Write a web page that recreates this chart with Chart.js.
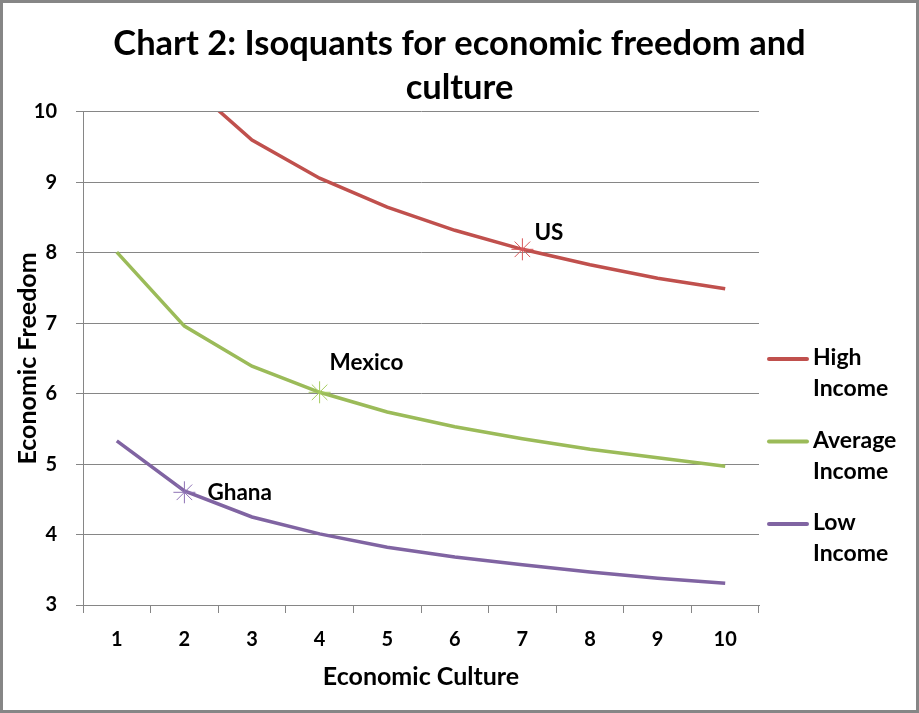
<!DOCTYPE html>
<html>
<head>
<meta charset="utf-8">
<script src="https://cdn.jsdelivr.net/npm/chart.js@4.4.1/dist/chart.umd.min.js"></script>
<style>
    body { margin: 0; background: #fff; }
    #wrap { position: relative; width: 913px; height: 707px; border: 3px solid #868686; }
</style>
</head>
<body>
<div id="wrap"><canvas id="myChart"></canvas></div>
<script>
// kategorije na x osi
const kultura = ['1', '2', '3', '4', '5', '6', '7', '8', '9', '10'];
// vrijednosti ocitane sa slike
const visokiPrihod = [12.05, 10.45, 9.60, 9.06, 8.65, 8.32, 8.05, 7.83, 7.64, 7.49];
const prosjecniPrihod = [8.01, 6.96, 6.39, 6.02, 5.74, 5.53, 5.36, 5.21, 5.09, 4.97];
const niskiPrihod = [5.33, 4.62, 4.25, 4.01, 3.82, 3.68, 3.57, 3.47, 3.38, 3.31];
const nazivi = ['High Income', 'Average Income', 'Low Income'];
// oznacene drzave
const drzave = ['US', 'Mexico', 'Ghana'];
const drzaveX = ['7', '4', '2'];
const drzaveY = [8.05, 6.02, 4.60];

const boje = ['#C0504D', '#9BBB59', '#8064A2'];
const bojeZvijezda = ['#D9585A', '#A6CC5E', '#8E72B5'];
// pomak natpisa od tacke (px)
const pomakNatpisa = [[12, -17], [10, -30], [23, 0]];
const FONT = 'Lato, "Open Sans", sans-serif';

const serije = [visokiPrihod, prosjecniPrihod, niskiPrihod];

const datasets = [];
drzave.forEach((d, i) => {
    datasets.push({
        label: d,
        data: [{ x: drzaveX[i], y: drzaveY[i] }],
        showLine: false,
        pointStyle: 'star',
        pointRadius: 11,
        pointBorderWidth: 1,
        pointBorderColor: bojeZvijezda[i],
        pointBackgroundColor: bojeZvijezda[i]
    });
});
serije.forEach((s, i) => {
    datasets.push({
        label: nazivi[i],
        data: s,
        borderColor: boje[i],
        backgroundColor: boje[i],
        borderWidth: 3.5,
        pointRadius: 0,
        tension: 0
    });
});

const legendaPlugin = {
    id: 'legenda',
    afterDraw(chart) {
        const ctx = chart.ctx;
        const a = chart.chartArea;
        ctx.save();
        ctx.font = 'bold 23px ' + FONT;
        ctx.fillStyle = '#000';
        ctx.textBaseline = 'middle';
        ctx.textAlign = 'left';
        nazivi.forEach((n, i) => {
            const y = a.top + 247 + i * 82.5;
            ctx.strokeStyle = boje[i];
            ctx.lineWidth = 4;
            ctx.lineCap = 'round';
            ctx.beginPath();
            ctx.moveTo(a.right + 10, y);
            ctx.lineTo(a.right + 48, y);
            ctx.stroke();
            const dijelovi = n.split(' ');
            ctx.fillText(dijelovi[0], a.right + 54, y - 1);
            ctx.fillText(dijelovi[1], a.right + 54, y + 30);
        });
        // natpisi drzava
        ctx.font = 'bold 22.5px ' + FONT;
        const meta = drzave.map((d, i) => chart.getDatasetMeta(i).data[0]);
        meta.forEach((p, i) => {
            ctx.fillText(drzave[i], p.x + pomakNatpisa[i][0], p.y + pomakNatpisa[i][1]);
        });
        ctx.restore();
    }
};

const ctx = document.getElementById('myChart');
const myChart = new Chart(ctx, {
    type: 'line',
    data: { labels: kultura, datasets: datasets },
    plugins: [legendaPlugin],
    options: {
        responsive: true,
        maintainAspectRatio: false,
        animation: false,
        layout: { padding: 0 },
        plugins: {
            legend: { display: false },
            tooltip: { enabled: false },
            title: {
                display: true,
                text: ['Chart 2: Isoquants for economic freedom and', 'culture'],
                color: '#000',
                font: { family: FONT, size: 34.5, weight: 'bold', lineHeight: 1.275 },
                padding: { top: 19, bottom: 2 }
            }
        },
        scales: {
            x: {
                offset: true,
                grid: { drawOnChartArea: false, drawTicks: true, tickLength: 8, color: '#868686', offset: true },
                border: { color: '#868686', width: 1 },
                ticks: { color: '#000', padding: 15, font: { family: FONT, size: 20, weight: 'bold' } },
                title: {
                    display: true,
                    text: 'Economic Culture',
                    color: '#000',
                    font: { family: FONT, size: 25, weight: 'bold' },
                    padding: { top: 0, bottom: 18 }
                },
                afterFit(s) { s.height = 105; }
            },
            y: {
                min: 3,
                max: 10,
                ticks: { stepSize: 1, color: '#000', padding: 19, font: { family: FONT, size: 20, weight: 'bold' } },
                grid: { color: '#868686', tickLength: 7 },
                border: { color: '#868686', width: 1 },
                title: {
                    display: true,
                    text: 'Economic Freedom',
                    color: '#000',
                    font: { family: FONT, size: 25, weight: 'bold' },
                    padding: { top: 10, bottom: 0 }
                },
                afterFit(s) { s.width = 80; }
            },
            // prazna os desno, samo rezervise mjesto za legendu
            desno: {
                type: 'linear',
                position: 'right',
                display: true,
                grid: { display: false },
                border: { display: false },
                ticks: { display: false },
                afterFit(s) { s.width = 157; }
            }
        }
    }
});
</script>
</body>
</html>
